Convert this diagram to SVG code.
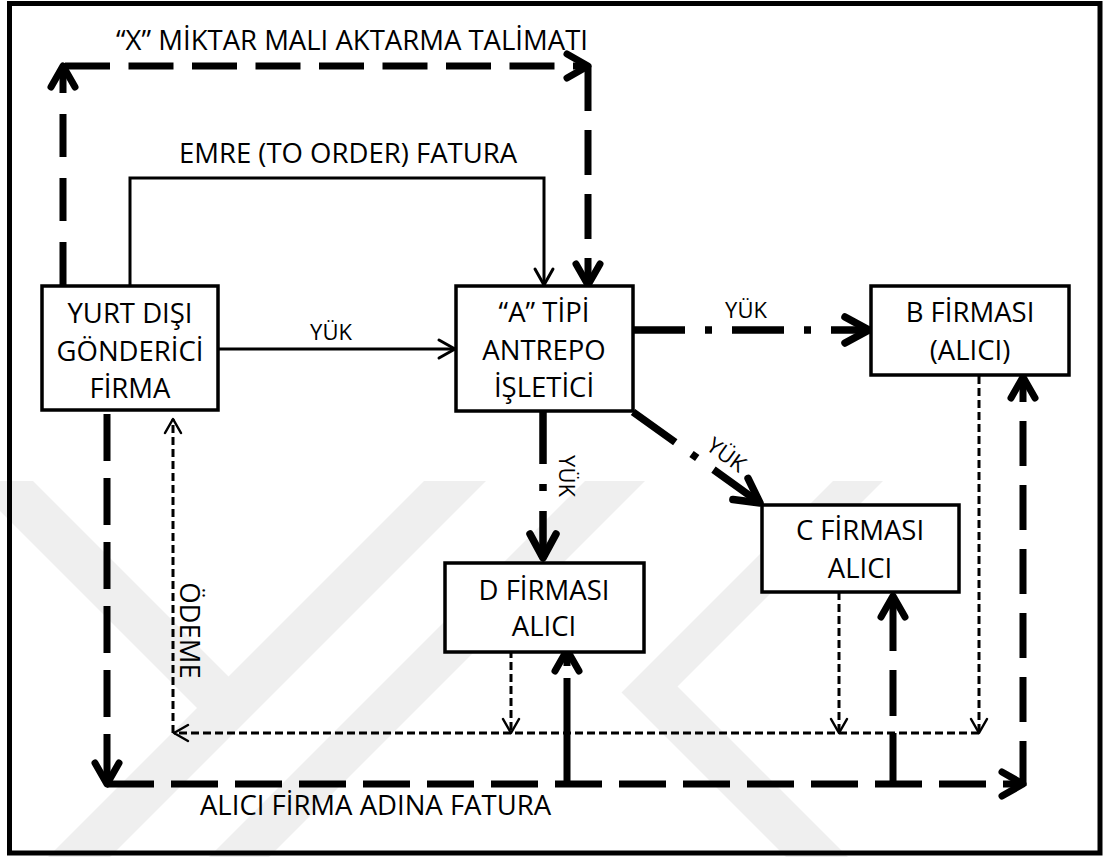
<svg xmlns="http://www.w3.org/2000/svg" width="1104" height="857" viewBox="0 0 1104 857">
  <defs>
    <style>
      .frame { fill: none; stroke: #000; stroke-width: 5; }
      .box { fill: #fff; stroke: #000; stroke-width: 3.5; }
      .wm { fill: #efefef; stroke: none; }
      .lbl { font-family: "Open Sans", "Noto Sans", sans-serif; font-size: 27.5px; fill: #000; text-anchor: middle; }
      .small { font-size: 22px; }
      .thin { fill: none; stroke: #000; stroke-width: 3; }
      .bold { fill: none; stroke: #000; stroke-width: 7; }
      .load { fill: none; stroke: #000; stroke-width: 7.5; stroke-dasharray: 52 20 7 20; }
      .dot { fill: none; stroke: #000; stroke-width: 3; stroke-dasharray: 8 4; }
      .head { fill: none; stroke: #000; stroke-linecap: round; stroke-linejoin: round; }
    </style>
    <marker id="arrowThin" markerUnits="userSpaceOnUse" orient="auto" overflow="visible" refX="0" refY="0" markerWidth="1" markerHeight="1">
      <path class="head" d="M-16,-9 L0,0 L-16,9" stroke-width="3"/>
    </marker>
    <marker id="arrowBold" markerUnits="userSpaceOnUse" orient="auto" overflow="visible" refX="0" refY="0" markerWidth="1" markerHeight="1">
      <path class="head" d="M-21,-12 L0,0 L-21,12" stroke-width="7"/>
    </marker>
    <marker id="arrowLoad" markerUnits="userSpaceOnUse" orient="auto" overflow="visible" refX="0" refY="0" markerWidth="1" markerHeight="1">
      <path class="head" d="M-24,-13 L0,0 L-24,13" stroke-width="7.5"/>
    </marker>
    <marker id="arrowDot" markerUnits="userSpaceOnUse" orient="auto" overflow="visible" refX="0" refY="0" markerWidth="1" markerHeight="1">
      <path class="head" d="M-14,-8 L0,0 L-14,8" stroke-width="2.5"/>
    </marker>
  </defs>

  <rect width="1104" height="857" fill="#fff"/>

  <!-- faint background emblem: diagonal bands -->
  <g id="emblem">
    <polygon class="wm" points="-30,481 33,481 229.5,677.5 198,709"/>
    <polygon class="wm" points="424,481 486,481 110,857 48,857"/>
    <polygon class="wm" points="585,481 645,481 269,857 209,857"/>
    <polygon class="wm" points="833,481 883,481 677.5,686.5 848,857 786,857 621.5,692.5"/>
  </g>

  <rect class="frame" x="9.5" y="3.5" width="1090.5" height="849.5"/>

  <!-- connectors -->
  <g id="connectors">
    <!-- transfer instruction: sender -> warehouse -->
    <path class="bold" d="M63,285 V66" stroke-dasharray="43 21" marker-end="url(#arrowBold)"/>
    <path class="bold" d="M65,66 H588" stroke-dasharray="45 18.5" marker-end="url(#arrowBold)"/>
    <path class="bold" d="M588,66 V285" stroke-dasharray="45 19" marker-end="url(#arrowBold)"/>

    <!-- to-order invoice -->
    <path class="thin" d="M130,286 V178 H544 V285" marker-end="url(#arrowThin)"/>
    <!-- goods into warehouse -->
    <path class="thin" d="M218,349 H455" marker-end="url(#arrowThin)"/>

    <!-- goods out of warehouse -->
    <path class="load" d="M633,330 H869" marker-end="url(#arrowLoad)"/>
    <path class="load" d="M543,412 V558" stroke-dasharray="57 22 6 21" marker-end="url(#arrowLoad)"/>
    <path class="load" d="M633,412 L760,503" stroke-dasharray="52 20 6 22" marker-end="url(#arrowLoad)"/>

    <!-- invoices in the buyer's name -->
    <path class="bold" d="M107,414 V784" stroke-dasharray="47 17" marker-end="url(#arrowBold)"/>
    <path class="bold" d="M107,784 H1023" stroke-dasharray="47 17" marker-end="url(#arrowBold)"/>
    <path class="bold" d="M1023,786 V377" stroke-dasharray="45 19" marker-end="url(#arrowBold)"/>
    <path class="bold" d="M893,784 V596" stroke-dasharray="51 17 46 19 60" marker-end="url(#arrowBold)"/>
    <path class="bold" d="M567,784 V650" stroke-dasharray="106 12 30" marker-end="url(#arrowBold)"/>

    <!-- payments back to the sender -->
    <path class="dot" d="M979,376 V733" marker-end="url(#arrowDot)"/>
    <path class="dot" d="M839,592 V733" marker-end="url(#arrowDot)"/>
    <path class="dot" d="M511,650 V733" marker-end="url(#arrowDot)"/>
    <path class="dot" d="M979,733 H174" marker-end="url(#arrowDot)"/>
    <path class="dot" d="M173,733 V419" marker-end="url(#arrowDot)"/>

    <!-- connector labels -->
    <text class="lbl" x="352" y="50">“X” MİKTAR MALI AKTARMA TALİMATI</text>
    <text class="lbl" x="348" y="163">EMRE (TO ORDER) FATURA</text>
    <text class="lbl" x="375.5" y="815">ALICI FİRMA ADINA FATURA</text>
    <text class="lbl small" x="331" y="340">YÜK</text>
    <text class="lbl small" x="746" y="318">YÜK</text>
    <text class="lbl small" transform="translate(559,476) rotate(90)">YÜK</text>
    <text class="lbl small" transform="translate(722,461) rotate(36)">YÜK</text>
    <text class="lbl" font-size="26" transform="translate(180,630.5) rotate(90)">ÖDEME</text>
  </g>

  <!-- nodes -->
  <g id="sender">
    <rect class="box" x="42" y="286" width="176" height="124"/>
    <text class="lbl" x="130" y="323">YURT DIŞI</text>
    <text class="lbl" x="130" y="361">GÖNDERİCİ</text>
    <text class="lbl" x="130" y="398">FİRMA</text>
  </g>
  <g id="warehouse">
    <rect class="box" x="456" y="286" width="177" height="125"/>
    <text class="lbl" x="544" y="322">“A” TİPİ</text>
    <text class="lbl" x="544" y="360">ANTREPO</text>
    <text class="lbl" x="544" y="397">İŞLETİCİ</text>
  </g>
  <g id="buyerB">
    <rect class="box" x="871" y="286" width="198" height="89"/>
    <text class="lbl" x="970" y="322">B FİRMASI</text>
    <text class="lbl" x="970" y="360">(ALICI)</text>
  </g>
  <g id="buyerC">
    <rect class="box" x="762" y="505" width="197" height="87"/>
    <text class="lbl" x="860" y="540">C FİRMASI</text>
    <text class="lbl" x="860" y="578">ALICI</text>
  </g>
  <g id="buyerD">
    <rect class="box" x="445" y="563" width="199" height="89"/>
    <text class="lbl" x="544" y="600">D FİRMASI</text>
    <text class="lbl" x="544" y="636">ALICI</text>
  </g>
</svg>
